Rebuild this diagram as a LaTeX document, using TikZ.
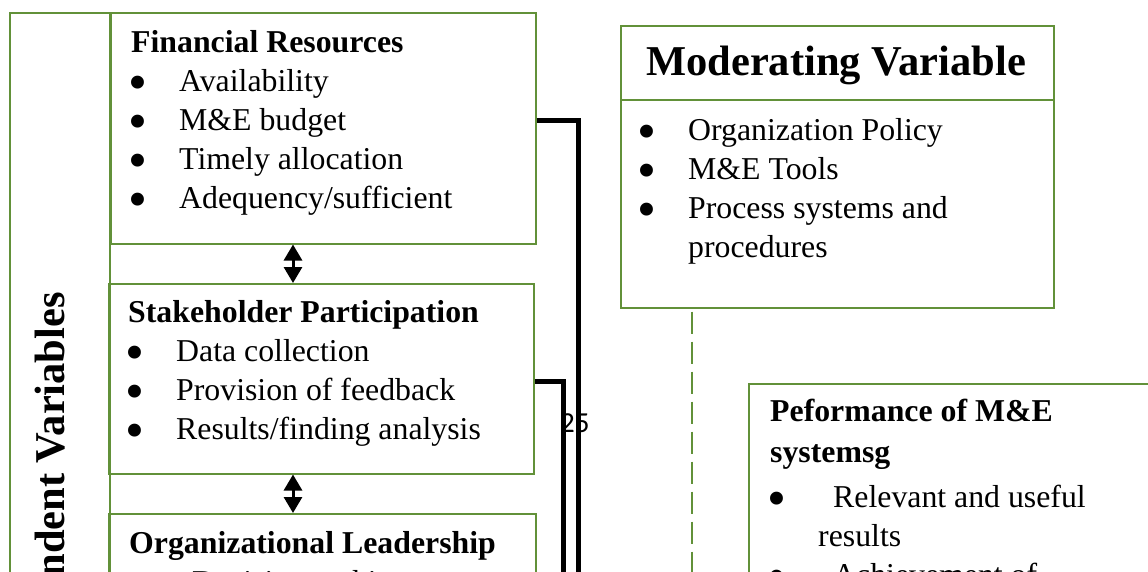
\documentclass[tikz,border=0pt]{standalone}
\usepackage{fontspec}
\setmainfont{Liberation Serif}
\newfontfamily\pagenumfont{Carlito}
\usetikzlibrary{arrows.meta}
\definecolor{framegreen}{RGB}{98,145,57}

%bullet with a fixed indent, like the word lists
\newcommand{\bul}[1][48pt]{\makebox[#1][l]{\hspace{-2.5pt}\smash{\raisebox{-0.3em}{\scalebox{1.7}{\textbullet}}}}}

\begin{document}
\begin{tikzpicture}[x=1pt, y=-1pt,
  varbox/.style={draw=framegreen, line width=1.5pt, anchor=north west, inner sep=0pt},
  boxtext/.style={anchor=base west, align=left, inner sep=0pt, font=\fontsize{31.8}{39}\selectfont},
  linkarrow/.style={line width=3pt, {Triangle[length=16pt,width=18pt]}-{Triangle[length=16pt,width=18pt]}},
  feedline/.style={line width=5pt},
  modline/.style={draw=framegreen, line width=2pt, dash pattern=on 22pt off 8pt}]

%%page area
\useasboundingbox (0,0) rectangle (1148,571);
\clip (0,0) rectangle (1148,571);

%%independent variables
\node[varbox, minimum width=100, minimum height=700] (indbox) at (9,12) {};
\node[anchor=base east, rotate=90, inner sep=0pt, font=\fontsize{42.5}{50}\selectfont\bfseries] (indtitle) at (64,292) {Independent Variables};

\node[varbox, minimum width=425, minimum height=231] (finbox) at (110,12) {};
\node[varbox, minimum width=425, minimum height=190] (stakebox) at (108,283) {};
\node[varbox, minimum width=427, minimum height=200] (orgbox) at (108,513) {};

%%base of a list node = its last line
\node[boxtext] (fintext) at (131,208) {\textbf{Financial Resources}\\ \bul Availability\\ \bul M\&E budget\\ \bul Timely allocation\\ \bul Adequency/sufficient};
\node[boxtext] (staketext) at (128,439) {\textbf{Stakeholder Participation}\\ \bul Data collection\\ \bul Provision of feedback\\ \bul Results/finding analysis};
\node[boxtext] (orgtext) at (129,592) {\textbf{Organizational Leadership}\\ \bul[63pt]Decision making};

%%arrows between the boxes
\coordinate (linkx) at (293,0);
\draw[linkarrow] (finbox.south -| linkx) -- (stakebox.north -| linkx);
\draw[linkarrow] (stakebox.south -| linkx) -- (orgbox.north -| linkx);

%%lines to the right
\coordinate (finfeed) at (578,620);
\coordinate (stakefeed) at (563,620);
\draw[feedline] ([yshift=8pt]finbox.east) -| (finfeed);
\draw[feedline] ([yshift=-3pt]stakebox.east) -| (stakefeed);

%%moderating variable
\node[varbox, minimum width=433, minimum height=74] (modhead) at (620,25) {};
\node[varbox, minimum width=433, minimum height=208] (modbody) at (620,99) {};
\node[anchor=base, inner sep=0pt, font=\fontsize{42.5}{50}\selectfont\bfseries] (modtitle) at (836,75) {Moderating Variable};
\node[boxtext] (modtext) at (640,257) {\bul Organization Policy\\ \bul M\&E Tools\\ \bul Process systems and\\ \hspace*{48pt}procedures};

\coordinate (modfoot) at (692,620);
\draw[modline] ([yshift=-3pt]modbody.south -| modfoot) -- (modfoot);

%%dependent variable
\node[varbox, minimum width=500, minimum height=300] (perfbox) at (748,383) {};
\node[boxtext] (perftext) at (770,585) {\textbf{Peformance of M\&E}\\[2pt] \textbf{systemsg}\\[6pt] \bul[63pt]Relevant and useful\\ \hspace*{48pt}results\\ \bul[63pt]Achievement of};

\node[anchor=base west, inner sep=0pt, font=\pagenumfont\fontsize{29}{34}\selectfont] (pagenum) at (560,432) {25};

\end{tikzpicture}
\end{document}
